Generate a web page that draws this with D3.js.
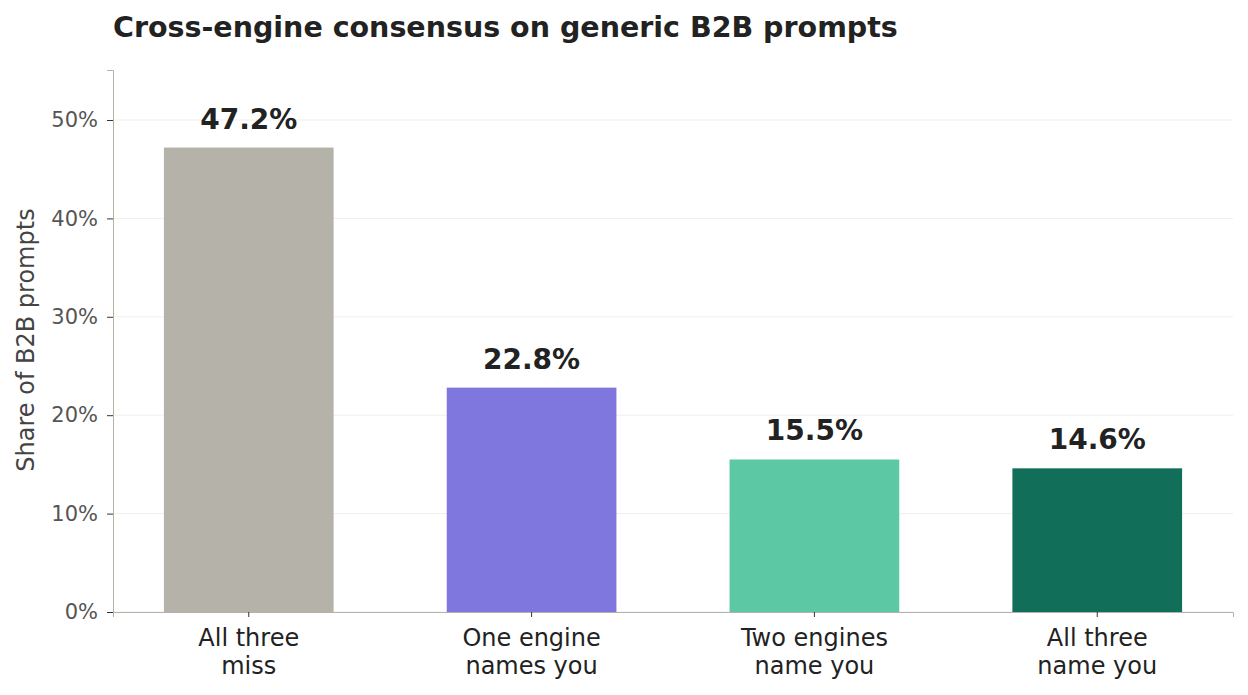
<!DOCTYPE html>
<html>
<head>
<meta charset="utf-8">
<script src="https://cdn.jsdelivr.net/npm/d3@7"></script>
<style>
  body { margin: 0; background: #fff; }
  text { font-family: "DejaVu Sans", sans-serif; }
</style>
</head>
<body>
<div id="chart"></div>
<script>
const categories = [
  ["All three", "miss"],
  ["One engine", "names you"],
  ["Two engines", "name you"],
  ["All three", "name you"]
];
const shares = [47.2, 22.8, 15.5, 14.6];
const barColors = ["#b5b2a9", "#7f77dd", "#5dc8a4", "#116e58"];
const yTicks = [0, 10, 20, 30, 40, 50];

const width = 1248, height = 695;
const margin = { top: 70, right: 15, bottom: 83, left: 113 };

const svg = d3.select("#chart").append("svg")
  .attr("width", width)
  .attr("height", height);

// title
svg.append("text")
  .attr("x", margin.left)
  .attr("y", 37)
  .attr("font-size", 28.5)
  .attr("font-weight", "bold")
  .attr("fill", "#222")
  .text("Cross-engine consensus on generic B2B prompts");

var x = d3.scaleBand()
  .domain(d3.range(categories.length))
  .range([margin.left, width - margin.right])
  .paddingInner(0.4)
  .paddingOuter(0.18);

var y = d3.scaleLinear()
  .domain([0, 55.08])
  .range([height - margin.bottom, margin.top]);

// grid lines
svg.append("g")
  .selectAll("line")
  .data(yTicks)
  .enter().append("line")
  .attr("x1", margin.left)
  .attr("x2", width - margin.right)
  .attr("y1", function(d) { return y(d); })
  .attr("y2", function(d) { return y(d); })
  .attr("stroke", "#f0efec")
  .attr("stroke-width", 1);

// bars
svg.selectAll(".bar")
  .data(shares)
  .enter().append("rect")
  .attr("class", "bar")
  .attr("x", function(d, i) { return x(i); })
  .attr("width", x.bandwidth())
  .attr("y", function(d) { return y(d); })
  .attr("height", function(d) { return y(0) - y(d); })
  .attr("fill", function(d, i) { return barColors[i]; });

// value labels
svg.selectAll(".value")
  .data(shares)
  .enter().append("text")
  .attr("class", "value")
  .attr("x", function(d, i) { return x(i) + x.bandwidth() / 2; })
  .attr("y", function(d) { return y(d) - 19; })
  .attr("text-anchor", "middle")
  .attr("font-size", 28)
  .attr("font-weight", "bold")
  .attr("fill", "#222")
  .text(function(d) { return d.toFixed(1) + "%"; });

// y axis
var yAxis = svg.append("g")
  .attr("transform", "translate(" + margin.left + ",0)")
  .call(d3.axisLeft(y).tickValues(yTicks).tickSize(6).tickPadding(9)
    .tickFormat(function(d) { return d + "%"; }));
yAxis.select(".domain").attr("stroke", "#b5b2a9");
yAxis.selectAll(".tick line").attr("stroke", "#333");
yAxis.selectAll(".tick text")
  .attr("font-size", 21)
  .attr("fill", "#555");

// x axis
var xAxis = svg.append("g")
  .attr("transform", "translate(0," + y(0) + ")")
  .call(d3.axisBottom(x).tickSize(5).tickFormat(""));
xAxis.select(".domain").attr("stroke", "#b5b2a9");
xAxis.selectAll(".tick line").attr("stroke", "#333");

svg.append("g")
  .selectAll("text")
  .data(categories)
  .enter().append("text")
  .attr("x", function(d, i) { return x(i) + x.bandwidth() / 2; })
  .attr("y", y(0) + 34)
  .attr("text-anchor", "middle")
  .attr("font-size", 24)
  .attr("fill", "#222")
  .each(function(d) {
    var t = d3.select(this);
    d.forEach(function(line, k) {
      t.append("tspan")
        .attr("x", t.attr("x"))
        .attr("dy", k === 0 ? 0 : 28)
        .text(line);
    });
  });

// y label
svg.append("text")
  .attr("transform", "translate(34,340) rotate(-90)")
  .attr("text-anchor", "middle")
  .attr("font-size", 24)
  .attr("fill", "#444")
  .text("Share of B2B prompts");
</script>
</body>
</html>
